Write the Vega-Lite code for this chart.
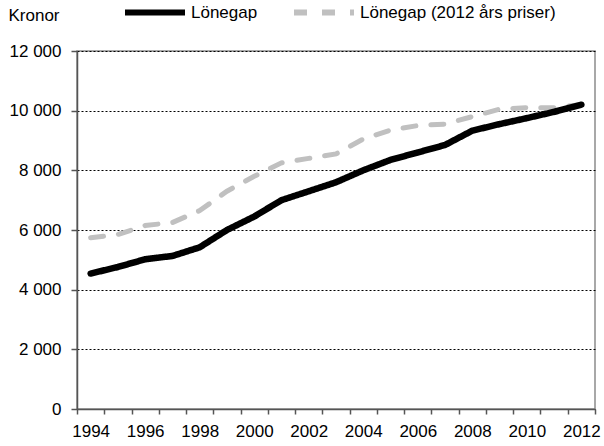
{
  "$schema": "https://vega.github.io/schema/vega-lite/v6.json",
  "width": 518,
  "height": 358,
  "autosize": "none",
  "padding": {"left": 77, "top": 51, "right": 9, "bottom": 37},
  "background": "white",
  "config": {
    "font": "Liberation Sans",
    "view": {"stroke": "#8c8c8c", "strokeWidth": 1.5}
  },
  "data": {
    "values": [
      {"year": "1994", "serie": "Lönegap", "value": 4540},
      {"year": "1995", "serie": "Lönegap", "value": 4760},
      {"year": "1996", "serie": "Lönegap", "value": 5020},
      {"year": "1997", "serie": "Lönegap", "value": 5130},
      {"year": "1998", "serie": "Lönegap", "value": 5420},
      {"year": "1999", "serie": "Lönegap", "value": 6000},
      {"year": "2000", "serie": "Lönegap", "value": 6450},
      {"year": "2001", "serie": "Lönegap", "value": 7000},
      {"year": "2002", "serie": "Lönegap", "value": 7300},
      {"year": "2003", "serie": "Lönegap", "value": 7600},
      {"year": "2004", "serie": "Lönegap", "value": 8000},
      {"year": "2005", "serie": "Lönegap", "value": 8350},
      {"year": "2006", "serie": "Lönegap", "value": 8600},
      {"year": "2007", "serie": "Lönegap", "value": 8850},
      {"year": "2008", "serie": "Lönegap", "value": 9330},
      {"year": "2009", "serie": "Lönegap", "value": 9550},
      {"year": "2010", "serie": "Lönegap", "value": 9750},
      {"year": "2011", "serie": "Lönegap", "value": 9960},
      {"year": "2012", "serie": "Lönegap", "value": 10200},
      {"year": "1994", "serie": "Lönegap (2012 års priser)", "value": 5740},
      {"year": "1995", "serie": "Lönegap (2012 års priser)", "value": 5850},
      {"year": "1996", "serie": "Lönegap (2012 års priser)", "value": 6150},
      {"year": "1997", "serie": "Lönegap (2012 års priser)", "value": 6250},
      {"year": "1998", "serie": "Lönegap (2012 års priser)", "value": 6650},
      {"year": "1999", "serie": "Lönegap (2012 års priser)", "value": 7300},
      {"year": "2000", "serie": "Lönegap (2012 års priser)", "value": 7800},
      {"year": "2001", "serie": "Lönegap (2012 års priser)", "value": 8250},
      {"year": "2002", "serie": "Lönegap (2012 års priser)", "value": 8400},
      {"year": "2003", "serie": "Lönegap (2012 års priser)", "value": 8550},
      {"year": "2004", "serie": "Lönegap (2012 års priser)", "value": 9050},
      {"year": "2005", "serie": "Lönegap (2012 års priser)", "value": 9350},
      {"year": "2006", "serie": "Lönegap (2012 års priser)", "value": 9500},
      {"year": "2007", "serie": "Lönegap (2012 års priser)", "value": 9550},
      {"year": "2008", "serie": "Lönegap (2012 års priser)", "value": 9800},
      {"year": "2009", "serie": "Lönegap (2012 års priser)", "value": 10050},
      {"year": "2010", "serie": "Lönegap (2012 års priser)", "value": 10100},
      {"year": "2011", "serie": "Lönegap (2012 års priser)", "value": 10100},
      {"year": "2012", "serie": "Lönegap (2012 års priser)", "value": 10200}
    ]
  },
  "encoding": {
    "x": {
      "field": "year", "type": "ordinal",
      "scale": {"paddingInner": 0, "paddingOuter": 0},
      "axis": {
        "title": null, "labelAngle": 0, "tickBand": "extent", "grid": false,
        "domainColor": "#555", "domainWidth": 1.5, "tickColor": "#555", "tickSize": 5, "tickWidth": 1.5,
        "labelPadding": 9, "labelFont": "Liberation Sans", "labelFontSize": 17, "labelColor": "#000",
        "labelExpr": "toNumber(datum.value) % 2 == 0 ? datum.value : ''"
      }
    },
    "y": {
      "field": "value", "type": "quantitative",
      "scale": {"domain": [0, 12000], "nice": false},
      "axis": {
        "values": [0, 2000, 4000, 6000, 8000, 10000, 12000],
        "labelExpr": "replace(format(datum.value, ','), ',', ' ')",
        "labelFont": "Liberation Sans", "labelFontSize": 17, "labelColor": "#000",
        "grid": true, "gridColor": "#000", "gridDash": [2, 2], "gridWidth": 1,
        "domainColor": "#555", "domainWidth": 1.5, "tickColor": "#555", "tickSize": 6, "tickWidth": 1.5,
        "labelPadding": 10,
        "title": "Kronor", "titleAngle": 0, "titleAlign": "left", "titleBaseline": "alphabetic",
        "titleX": -69, "titleY": -31, "titleFont": "Liberation Sans", "titleFontSize": 17, "titleFontWeight": "normal", "titleColor": "#000"
      }
    },
    "color": {
      "field": "serie", "type": "nominal",
      "scale": {"domain": ["Lönegap", "Lönegap (2012 års priser)"], "range": ["#000000", "#c0c0c0"]},
      "legend": {
        "title": null, "orient": "none", "direction": "horizontal",
        "legendX": 45, "legendY": -71.5, "padding": 0,
        "symbolType": "stroke", "symbolSize": 3600, "symbolStrokeWidth": 6,
        "labelOffset": 3, "columnPadding": 24, "labelLimit": 0,
        "labelFont": "Liberation Sans", "labelFontSize": 17, "labelColor": "#000"
      }
    },
    "strokeDash": {
      "field": "serie", "type": "nominal",
      "scale": {"domain": ["Lönegap", "Lönegap (2012 års priser)"], "range": [[1, 0], [13, 15]]},
      "legend": {
        "title": null, "orient": "none", "direction": "horizontal",
        "legendX": 45, "legendY": -71.5, "padding": 0,
        "symbolType": "stroke", "symbolSize": 3600, "symbolStrokeWidth": 6,
        "labelOffset": 3, "columnPadding": 24, "labelLimit": 0,
        "labelFont": "Liberation Sans", "labelFontSize": 17, "labelColor": "#000"
      }
    }
  },
  "layer": [
    {
      "transform": [{"filter": "datum.serie != 'Lönegap'"}],
      "mark": {"type": "line", "strokeWidth": 5, "strokeCap": "round"}
    },
    {
      "transform": [{"filter": "datum.serie == 'Lönegap'"}],
      "mark": {"type": "line", "strokeWidth": 6.5, "strokeCap": "round", "strokeJoin": "round"}
    }
  ]
}
